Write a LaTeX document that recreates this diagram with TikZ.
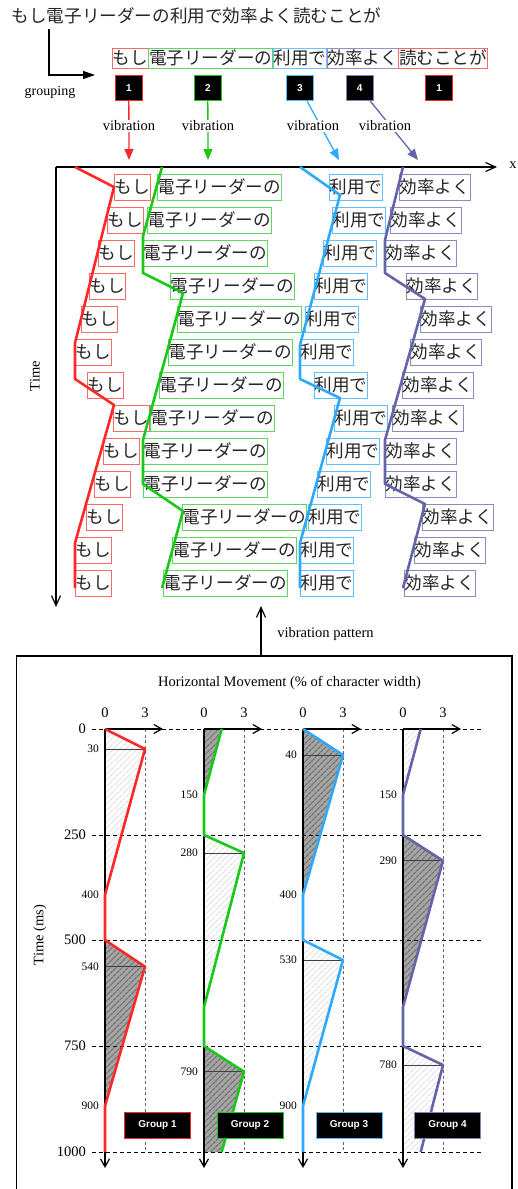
\documentclass[tikz,border=0pt]{standalone}
\usepackage{fontspec}
\setmainfont{Liberation Serif}
\newfontfamily\cjk{Noto Sans CJK JP}
\newfontfamily\hv{Liberation Sans}
\usetikzlibrary{arrows.meta,patterns.meta}
\definecolor{cR}{RGB}{255,40,40}
\definecolor{cG}{RGB}{25,200,25}
\definecolor{cB}{RGB}{45,170,255}
\definecolor{cP}{RGB}{100,100,170}
\definecolor{hdark}{RGB}{165,165,165}
\definecolor{hdarkl}{RGB}{115,115,115}
\definecolor{hlight}{RGB}{228,228,228}
\begin{document}
\begin{tikzpicture}[x=1pt,y=-1pt,
  cjkf/.style={font=\cjk\fontsize{17.6}{20}\selectfont},
  tbox/.style={cjkf, draw, line width=0.8pt, inner xsep=0.2pt, inner ysep=0pt, minimum height=26pt, anchor=west, text=black!85},
  gbox/.style={cjkf, draw, line width=0.8pt, inner xsep=0.2pt, inner ysep=0pt, minimum height=20pt, anchor=west, text=black!85},
  numbox/.style={fill=black, draw, line width=1pt, minimum width=27pt, minimum height=25pt, inner sep=0pt, text=white, font=\hv\bfseries\fontsize{10}{12}\selectfont},
  grpbox/.style={numbox, minimum width=66pt, minimum height=26pt},
  lbl/.style={font=\fontsize{14.5}{16}\selectfont, inner sep=1pt},
  smalllbl/.style={font=\fontsize{11.5}{13}\selectfont, inner sep=0pt, anchor=east},
  vibline/.style={line width=2.6pt, line join=round},
  axisline/.style={line width=1.2pt, -{Straight Barb[length=10pt,width=9pt,line width=1.2pt]}},
  chartaxis/.style={line width=1.2pt, -{Straight Barb[length=8pt,width=9pt,line width=1.2pt]}},
  vibarrow/.style={line width=1.3pt, -{Triangle[length=11pt,width=9pt]}},
  darkh/.style={fill=hdark, postaction={pattern={Lines[angle=45,distance=4pt,line width=1.3pt]}, pattern color=hdarkl}},
  lighth/.style={pattern={Lines[angle=45,distance=4pt,line width=1.3pt]}, pattern color=hlight},
  hgrid/.style={dash pattern=on 4pt off 3pt, line width=0.9pt},
  vgrid/.style={dash pattern=on 3pt off 2.5pt, line width=0.6pt, black!60},
  peakline/.style={line width=0.6pt, black!75}
]
\useasboundingbox (0,0) rectangle (517,1189);

% ---------- title and grouping ----------
\node[cjkf, anchor=west, inner sep=0pt, text=black!85] (title) at (11.5,16) {もし電子リーダーの利用で効率よく読むことが};
\coordinate (gs) at (49,29);
\coordinate (ge) at (95,75);
\draw[line width=1.2pt, -{Triangle[length=12pt,width=8pt]}] (gs) |- (ge);
\node[font=\fontsize{14}{16}\selectfont] (grp) at (50,92) {grouping};

\node[gbox, draw=cR!70] (g1) at (112,58) {もし};
\node[gbox, draw=cG!70] (g2) at (g1.east) {電子リーダーの};
\node[gbox, draw=cB!70] (g3) at (g2.east) {利用で};
\node[gbox, draw=cP!70] (g4) at (g3.east) {効率よく};
\node[gbox, draw=cR!70] (g5) at (g4.east) {読むことが};

\node[numbox, draw=cR] (n1) at (128.8,88) {1};
\node[numbox, draw=cG] (n2) at (207.8,88) {2};
\node[numbox, draw=cB!80] (n3) at (300,88) {3};
\node[numbox, draw=cP!80] (n4) at (359.7,88) {4};
\node[numbox, draw=cR] (n5) at (439.2,88) {1};

\coordinate (v1) at (129,160);
\coordinate (v2) at (208,160);
\coordinate (v3) at (339,160);
\coordinate (v4) at (418,160);
\draw[vibarrow, cR] (n1) -- (v1);
\draw[vibarrow, cG] (n2) -- (v2);
\draw[vibarrow, cB] (n3) -- (v3);
\draw[vibarrow, cP] (n4) -- (v4);
\node[lbl, fill=white] (vl1) at (129,126) {vibration};
\node[lbl, fill=white] (vl2) at (208,126) {vibration};
\node[lbl, fill=white] (vl3) at (313,126) {vibration};
\node[lbl, fill=white] (vl4) at (385,126) {vibration};

% ---------- main time chart ----------
\coordinate (O) at (56,167);
\coordinate (X) at (497,167);
\coordinate (Y) at (56,607);
\draw[axisline] (O) -- (X);
\draw[axisline] (O) -- (Y);
\node[lbl] (xl) at (513,165) {x};
\node[lbl, rotate=90] (tl) at (35,376) {Time};

\foreach \r/\a/\b/\c/\d in {1/114/157/329/399, 2/107/147/332/390, 3/98/143/323/385,
  4/89/170/314/406, 5/81/177/305/420, 6/75/168/300/410, 7/87/159/314/402,
  8/113/150/334/392, 9/103/143/326/385, 10/94/143/317/385, 11/86/182/308/422,
  12/75/172/300/414, 13/75/163/300/404}{
  \pgfmathsetmacro\yy{187+33*(\r-1)}
  \node[tbox, draw=cR!70] (ra\r) at (\a,\yy) {もし};
  \node[tbox, draw=cG!70] (rb\r) at (\b,\yy) {電子リーダーの};
  \node[tbox, draw=cB!75] (rc\r) at (\c,\yy) {利用で};
  \node[tbox, draw=cP!75] (rd\r) at (\d,\yy) {効率よく};
}

\draw[vibline, cR] (75,167) -- (114,187) -- (75,343) -- (75,379) -- (114,405) -- (75,543) -- (75,588);
\draw[vibline, cG] (162,167) -- (143,236) -- (143,273) -- (183,293) -- (143,440) -- (143,484) -- (183,511) -- (162,588);
\draw[vibline, cB] (300,167) -- (340,195) -- (300,345) -- (300,379) -- (340,398) -- (300,543) -- (300,588);
\draw[vibline, cP] (403,167) -- (385,240) -- (385,273) -- (425,299) -- (385,440) -- (385,484) -- (425,504) -- (403,588);

% ---------- vibration pattern link ----------
\coordinate (bt) at (261,656);
\coordinate (vp) at (261,606);
\draw[axisline] (bt) -- (vp);
\node[lbl] (vpl) at (325.5,634) {vibration pattern};

% ---------- lower panel ----------
\draw[line width=1.2pt] (16.5,1200) -- (16.5,656) -- (512,656) -- (512,1200);
\node[lbl] (ht) at (289.5,683) {Horizontal Movement (\% of character width)};
\node[lbl, rotate=90] (tms) at (40,935) {Time (ms)};

% fills
\fill[lighth] (105,729) -- (145,749) -- (105,895) -- cycle;
\fill[darkh] (105,940) -- (145,966.7) -- (105,1106) -- cycle;

\fill[darkh] (204,729) -- (221.7,729) -- (204,795) -- cycle;
\fill[lighth] (204,835) -- (244,853) -- (204,1007) -- cycle;
\fill[darkh] (204,1046) -- (244,1071.7) -- (221.7,1152) -- (204,1152) -- cycle;

\fill[darkh] (303,729) -- (343,755) -- (303,895) -- cycle;
\fill[lighth] (303,940) -- (343,960) -- (303,1106) -- cycle;

\fill[lighth] (403,729) -- (420.7,729) -- (403,795) -- cycle;
\fill[darkh] (403,835) -- (443,860.7) -- (403,1007) -- cycle;
\fill[lighth] (403,1046) -- (443,1065) -- (420.7,1152) -- (403,1152) -- cycle;

% grid
\foreach \yy/\tt in {729/0, 835/250, 940/500, 1046/750, 1152/1000}{
  \draw[hgrid] (92,\yy) -- (482,\yy);
  \node[lbl, anchor=east] at (87,\yy) {\tt};
}
\foreach \xx in {105,204,303,403}{
  \draw[vgrid] (\xx+40,729) -- (\xx+40,1152);
  \node[lbl] at (\xx,712.5) {0};
  \node[lbl] at (\xx+40,712.5) {3};
}

% peak lines
\draw[peakline] (105,749) -- (145,749);
\draw[peakline] (105,966.7) -- (145,966.7);
\draw[peakline] (204,853) -- (244,853);
\draw[peakline] (204,1071.7) -- (244,1071.7);
\draw[peakline] (303,755) -- (343,755);
\draw[peakline] (303,960) -- (343,960);
\draw[peakline] (403,860.7) -- (443,860.7);
\draw[peakline] (403,1065) -- (443,1065);

% axes
\foreach \xx in {105,204,303,403}{
  \draw[chartaxis] (\xx,729) -- (\xx+58,729);
  \draw[chartaxis] (\xx,729) -- (\xx,1168);
}

% curves
\draw[vibline, cR] (105,729) -- (145,749) -- (105,895) -- (105,940) -- (145,966.7) -- (105,1106) -- (105,1152);
\draw[vibline, cG] (221.7,729) -- (204,795) -- (204,835) -- (244,853) -- (204,1007) -- (204,1046) -- (244,1071.7) -- (221.7,1152);
\draw[vibline, cB] (303,729) -- (343,755) -- (303,895) -- (303,940) -- (343,960) -- (303,1106) -- (303,1152);
\draw[vibline, cP] (420.7,729) -- (403,795) -- (403,835) -- (443,860.7) -- (403,1007) -- (403,1046) -- (443,1065) -- (420.7,1152);

% small time labels
\node[smalllbl] at (99,749) {30};
\node[smalllbl] at (99,895) {400};
\node[smalllbl] at (99,966.7) {540};
\node[smalllbl] at (99,1106) {900};
\node[smalllbl] at (198,795) {150};
\node[smalllbl] at (198,853) {280};
\node[smalllbl] at (198,1071.7) {790};
\node[smalllbl] at (297,755) {40};
\node[smalllbl] at (297,895) {400};
\node[smalllbl] at (297,960) {530};
\node[smalllbl] at (297,1106) {900};
\node[smalllbl] at (397,795) {150};
\node[smalllbl] at (397,860.7) {290};
\node[smalllbl] at (397,1065) {780};

% group labels
\node[grpbox, draw=cR] (G1) at (157.5,1125) {Group 1};
\node[grpbox, draw=cG] (G2) at (250,1125) {Group 2};
\node[grpbox, draw=cB!80] (G3) at (349,1125) {Group 3};
\node[grpbox, draw=cP!80] (G4) at (447.5,1125) {Group 4};
\end{tikzpicture}
\end{document}
